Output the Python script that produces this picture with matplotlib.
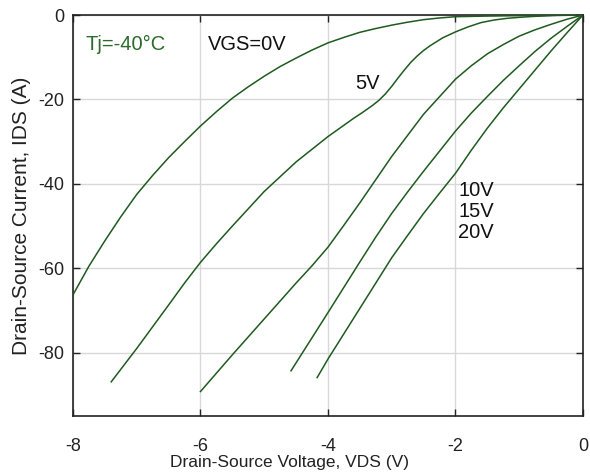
import matplotlib
matplotlib.use('Agg')
from matplotlib import pyplot as plt

# VDS (V) / IDS (A), one pair of lists per gate voltage
vds_0v = [-8, -7.75, -7.5, -7.25, -7, -6.75, -6.5, -6.25, -6, -5.75, -5.5, -5.25, -5, -4.75, -4.5,
          -4.25, -4, -3.75, -3.5, -3.25, -3, -2.75, -2.5, -2.25, -2, -1.5, -1, -0.5, 0]
ids_0v = [-66.3, -59.5, -53.5, -47.8, -42.5, -38, -33.8, -30, -26.3, -22.9, -19.7, -17, -14.5, -12.2,
          -10.2, -8.3, -6.6, -5.3, -4.1, -3.2, -2.4, -1.7, -1.1, -0.7, -0.4, -0.25, -0.15, -0.05, 0]

vds_5v = [-7.4, -7, -6.5, -6.25, -6, -5.75, -5.5, -5, -4.5, -4, -3.6, -3.45, -3.3, -3.2, -3.1, -3,
          -2.9, -2.8, -2.7, -2.6, -2.5, -2.4, -2.2, -2, -1.8, -1.6, -1.4, -1.2, -1, -0.8, -0.4, 0]
ids_5v = [-86.9, -79, -68.7, -63.5, -58.6, -54.2, -50, -41.8, -34.8, -28.8, -24.5, -23, -21.4, -20.2,
          -18.7, -16.9, -14.9, -13, -11.2, -9.7, -8.4, -7.3, -5.4, -4.0, -2.8, -1.8, -1.2, -0.8,
          -0.55, -0.35, -0.1, 0]

vds_10v = [-6, -5.5, -5, -4.5, -4.25, -4, -3.75, -3.5, -3, -2.5, -2, -1.75, -1.5, -1.25, -1, -0.75,
           -0.5, -0.25, 0]
ids_10v = [-89.2, -80.5, -72, -63.5, -59.4, -55, -49.8, -44.5, -33.5, -23.5, -15.2, -12, -9.2, -7.0,
           -5.0, -3.5, -2.2, -1.0, 0]

vds_15v = [-4.58, -4, -3.5, -3.25, -3, -2.75, -2.5, -2, -1.75, -1.5, -1.25, -1, -0.75, -0.5, -0.25, 0]
ids_15v = [-84.3, -70.5, -58.5, -52.6, -47, -41.9, -37, -27.5, -23.2, -19.3, -15.5, -12, -8.6, -5.5,
           -2.7, 0]

vds_20v = [-4.17, -4, -3.75, -3.5, -3.25, -3, -2.75, -2.5, -2.25, -2, -1.75, -1.5, -1.25, -1, -0.75,
           -0.5, -0.25, 0]
ids_20v = [-85.9, -81.5, -75.5, -69.5, -63.5, -57.5, -52.2, -47, -42.2, -37.5, -32, -26.8, -22, -17.5,
           -13, -8.5, -4.2, 0]

x_ticks = [-8, -6, -4, -2, 0]
y_ticks = [0, -20, -40, -60, -80]

LINE_COLOR = '#1f5a1f'


def main():
    plt.rcParams['font.family'] = ['Liberation Sans', 'DejaVu Sans']
    plt.rcParams['axes.unicode_minus'] = False

    fig = plt.figure(figsize=(5.9, 4.75), dpi=100)
    ax = fig.add_axes([0.1237, 0.1242, 0.8644, 0.8442])

    curves = [(vds_0v, ids_0v), (vds_5v, ids_5v), (vds_10v, ids_10v),
              (vds_15v, ids_15v), (vds_20v, ids_20v)]
    for vds, ids in curves:
        ax.plot(vds, ids, '-', color=LINE_COLOR, linewidth=1.1, zorder=3)

    ax.set_xlim(-8, 0)
    ax.set_ylim(-95, 0)
    ax.set_xticks(x_ticks)
    ax.set_yticks(y_ticks)
    ax.grid(True, color='#d8d8d8', linewidth=1.0)
    ax.set_axisbelow(True)

    ax.tick_params(direction='in', top=True, right=True, length=5, width=1,
                   labelsize=13, colors='#222222')
    ax.tick_params(axis='x', pad=16)
    ax.tick_params(axis='y', pad=6)
    for spine in ax.spines.values():
        spine.set_linewidth(1.2)
        spine.set_color('#222222')

    ax.set_xlabel('Drain-Source Voltage, VDS (V)', fontsize=12.5, color='#222222')
    ax.set_ylabel('Drain-Source Current, IDS (A)', fontsize=15, color='#222222')
    ax.xaxis.set_label_coords(0.424, -0.098)
    ax.yaxis.set_label_coords(-0.082, 0.5)

    ax.text(-7.80, -6.9, 'Tj=-40°C', fontsize=14.5, color='#2a6a2a', va='center', ha='left')
    ax.text(-5.88, -6.9, 'VGS=0V', fontsize=14.5, color='#111111', va='center', ha='left')
    ax.text(-3.58, -16.3, '5V', fontsize=14.5, color='#111111', va='center', ha='left')
    ax.text(-1.96, -41.6, '10V', fontsize=14.5, color='#111111', va='center', ha='left')
    ax.text(-1.96, -46.6, '15V', fontsize=14.5, color='#111111', va='center', ha='left')
    ax.text(-1.96, -51.6, '20V', fontsize=14.5, color='#111111', va='center', ha='left')

    fig.savefig('out.png', dpi=100)


if __name__ == '__main__':
    main()
